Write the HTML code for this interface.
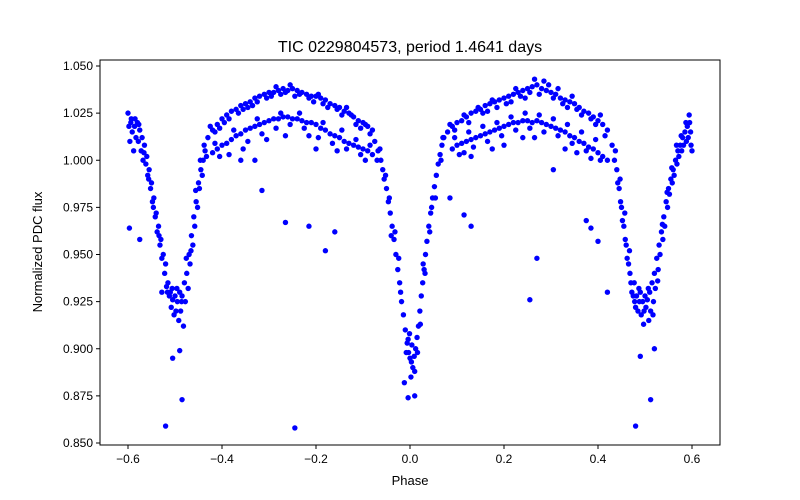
<!DOCTYPE html>
<html><head><meta charset="utf-8">
<style>
body{margin:0;background:#fff;}
svg{display:block;font-family:"Liberation Sans","DejaVu Sans",sans-serif;}
</style></head>
<body>
<svg id="chart" width="800" height="500" viewBox="0 0 800 500" xmlns="http://www.w3.org/2000/svg">
<rect width="800" height="500" fill="#fff"/>
<text x="410" y="52" font-size="16" text-anchor="middle" fill="#000">TIC 0229804573, period 1.4641 days</text>
<g id="points"></g>
<g id="xticks"></g>
<g id="yticks"></g>
<rect x="100" y="60" width="620" height="385" fill="none" stroke="#000" stroke-width="1"/>
<text x="410" y="485" font-size="13" text-anchor="middle">Phase</text>
<text x="0" y="0" font-size="13" text-anchor="middle" transform="translate(42,252) rotate(-90)">Normalized PDC flux</text>
</svg>
<script>
const xTicks = [-0.6,-0.4,-0.2,0.0,0.2,0.4,0.6];
const yTicks = [0.850,0.875,0.900,0.925,0.950,0.975,1.000,1.025,1.050];
const eclipseLeft = [[-0.600,1.025],[-0.598,1.018],[-0.596,1.010],[-0.594,1.020],[-0.591,1.015],[-0.588,1.005],[-0.586,1.018],[-0.583,1.012],[-0.580,1.020],[-0.578,1.010],[-0.575,1.016],[-0.572,1.005],[-0.570,1.012],[-0.568,1.000],[-0.565,1.008],[-0.562,0.998],[-0.560,1.002],[-0.558,0.992],[-0.555,0.995],[-0.552,0.985],[-0.550,0.988],[-0.548,0.978],[-0.545,0.980],[-0.542,0.970],[-0.540,0.972],[-0.538,0.962],[-0.535,0.965],[-0.532,0.955],[-0.530,0.958],[-0.528,0.948],[-0.525,0.950],[-0.522,0.940],[-0.520,0.945],[-0.518,0.933],[-0.515,0.935],[-0.512,0.928],[-0.510,0.930],[-0.508,0.922],[-0.505,0.926],[-0.502,0.918],[-0.500,0.928],[-0.498,0.920],[-0.495,0.925],[-0.492,0.915],[-0.490,0.930],[-0.488,0.920],[-0.485,0.928],[-0.482,0.912],[-0.480,0.935],[-0.478,0.925],[-0.475,0.940],[-0.472,0.932],[-0.470,0.950],[-0.468,0.945],[-0.465,0.960],[-0.462,0.955],[-0.460,0.970],[-0.458,0.965],[-0.455,0.978],[-0.452,0.975],[-0.450,0.988],[-0.448,0.985],[-0.445,0.995],[-0.442,0.992],[-0.440,1.000],[-0.436,1.005],[-0.433,1.002],[-0.593,1.022],[-0.585,1.022],[-0.577,1.019],[-0.566,1.004],[-0.556,0.990],[-0.546,0.975],[-0.534,0.960],[-0.516,0.930],[-0.506,0.932],[-0.496,0.932],[-0.486,0.925],[-0.476,0.948],[-0.466,0.952],[-0.456,0.984],[-0.446,1.000],[-0.438,1.008]];
const upperLeft = [[-0.43,1.012],[-0.42,1.016],[-0.41,1.019],[-0.40,1.022],[-0.39,1.024],[-0.38,1.026],[-0.37,1.027],[-0.36,1.029],[-0.35,1.030],[-0.34,1.031],[-0.33,1.033],[-0.32,1.034],[-0.31,1.035],[-0.30,1.036],[-0.29,1.036],[-0.28,1.037],[-0.27,1.038],[-0.26,1.037],[-0.25,1.038],[-0.24,1.037],[-0.23,1.036],[-0.22,1.035],[-0.21,1.034],[-0.20,1.034],[-0.19,1.033],[-0.18,1.032],[-0.17,1.030],[-0.16,1.029],[-0.15,1.028],[-0.14,1.026],[-0.13,1.025],[-0.12,1.023],[-0.11,1.021],[-0.10,1.020],[-0.09,1.018],[-0.08,1.016],[-0.425,1.018],[-0.395,1.020],[-0.365,1.025],[-0.335,1.029],[-0.305,1.033],[-0.275,1.035],[-0.245,1.034],[-0.215,1.033],[-0.185,1.030],[-0.155,1.027],[-0.125,1.024],[-0.095,1.019],[-0.085,1.014],[-0.415,1.015],[-0.385,1.022],[-0.355,1.027],[-0.325,1.031],[-0.295,1.034],[-0.265,1.036],[-0.235,1.035],[-0.205,1.031],[-0.175,1.028],[-0.145,1.024],[-0.115,1.019],[-0.105,1.017],[-0.405,1.017],[-0.345,1.028],[-0.285,1.039],[-0.255,1.040],[-0.195,1.035],[-0.135,1.028]];
const lowerLeft = [[-0.42,1.004],[-0.41,1.006],[-0.40,1.008],[-0.39,1.009],[-0.38,1.011],[-0.37,1.013],[-0.36,1.014],[-0.35,1.016],[-0.34,1.017],[-0.33,1.018],[-0.32,1.019],[-0.31,1.020],[-0.30,1.021],[-0.29,1.022],[-0.28,1.022],[-0.27,1.023],[-0.26,1.023],[-0.25,1.022],[-0.24,1.022],[-0.23,1.021],[-0.22,1.020],[-0.21,1.020],[-0.20,1.019],[-0.19,1.017],[-0.18,1.016],[-0.17,1.014],[-0.16,1.013],[-0.15,1.012],[-0.14,1.010],[-0.13,1.009],[-0.12,1.008],[-0.11,1.007],[-0.10,1.006],[-0.09,1.005],[-0.08,1.003],[-0.07,1.000],[-0.385,1.003],[-0.345,1.010],[-0.315,1.014],[-0.285,1.017],[-0.255,1.019],[-0.225,1.017],[-0.195,1.012],[-0.165,1.009],[-0.135,1.006],[-0.105,1.003],[-0.36,1.000],[-0.33,1.000],[-0.20,1.006],[-0.415,1.009],[-0.375,1.016],[-0.325,1.022],[-0.275,1.025],[-0.235,1.025],[-0.185,1.020],[-0.145,1.016],[-0.115,1.011],[-0.085,1.008],[-0.405,1.002],[-0.355,1.006],[-0.305,1.011],[-0.265,1.013],[-0.215,1.013],[-0.155,1.005],[-0.095,1.000]];
const primaryEclipse = [[-0.075,1.010],[-0.068,1.005],[-0.062,1.000],[-0.058,0.995],[-0.055,0.990],[-0.050,0.985],[-0.046,0.978],[-0.042,0.972],[-0.038,0.965],[-0.034,0.958],[-0.030,0.950],[-0.026,0.942],[-0.022,0.935],[-0.018,0.925],[-0.014,0.918],[-0.010,0.910],[-0.006,0.903],[-0.003,0.898],[0.000,0.895],[0.003,0.893],[0.006,0.890],[0.009,0.896],[0.012,0.900],[0.015,0.906],[0.018,0.912],[0.021,0.920],[0.024,0.928],[0.027,0.935],[0.030,0.942],[0.033,0.950],[0.036,0.957],[0.040,0.965],[0.044,0.972],[0.048,0.980],[0.052,0.986],[0.056,0.992],[0.060,0.998],[0.064,1.003],[0.068,1.008],[-0.004,0.905],[0.004,0.902],[-0.008,0.898],[0.010,0.888],[-0.020,0.930],[0.028,0.945],[-0.040,0.960],[0.046,0.975],[-0.001,0.908],[0.002,0.885],[-0.064,1.006],[-0.052,0.992],[-0.044,0.980],[-0.032,0.962],[-0.024,0.948],[0.016,0.898],[0.022,0.913],[0.032,0.940],[0.042,0.962],[0.054,0.980],[0.066,1.000],[0.072,1.012]];
const upperRight = [[0.07,1.012],[0.08,1.015],[0.09,1.018],[0.10,1.020],[0.11,1.021],[0.12,1.023],[0.13,1.025],[0.14,1.026],[0.15,1.027],[0.16,1.029],[0.17,1.030],[0.18,1.031],[0.19,1.032],[0.20,1.033],[0.21,1.034],[0.22,1.035],[0.23,1.036],[0.24,1.037],[0.25,1.038],[0.26,1.039],[0.27,1.040],[0.28,1.038],[0.29,1.037],[0.30,1.036],[0.31,1.035],[0.32,1.033],[0.33,1.032],[0.34,1.031],[0.35,1.030],[0.36,1.028],[0.37,1.026],[0.38,1.025],[0.39,1.023],[0.40,1.021],[0.41,1.019],[0.42,1.016],[0.085,1.019],[0.115,1.024],[0.145,1.028],[0.175,1.032],[0.205,1.030],[0.235,1.034],[0.265,1.043],[0.285,1.042],[0.295,1.040],[0.325,1.030],[0.355,1.027],[0.385,1.022],[0.415,1.013],[0.095,1.016],[0.125,1.020],[0.155,1.025],[0.185,1.028],[0.215,1.031],[0.245,1.033],[0.275,1.035],[0.305,1.033],[0.335,1.028],[0.365,1.024],[0.395,1.019],[0.405,1.024],[0.225,1.038],[0.255,1.036],[0.315,1.038],[0.345,1.034],[0.165,1.026]];
const lowerRight = [[0.09,1.006],[0.10,1.008],[0.11,1.009],[0.12,1.010],[0.13,1.011],[0.14,1.012],[0.15,1.013],[0.16,1.014],[0.17,1.015],[0.18,1.016],[0.19,1.017],[0.20,1.018],[0.21,1.019],[0.22,1.020],[0.23,1.020],[0.24,1.021],[0.25,1.021],[0.26,1.020],[0.27,1.021],[0.28,1.020],[0.29,1.019],[0.30,1.018],[0.31,1.017],[0.32,1.016],[0.33,1.015],[0.34,1.013],[0.35,1.012],[0.36,1.010],[0.37,1.009],[0.38,1.007],[0.39,1.006],[0.40,1.004],[0.41,1.002],[0.42,1.000],[0.105,1.003],[0.135,1.007],[0.165,1.010],[0.195,1.013],[0.225,1.016],[0.255,1.017],[0.285,1.015],[0.315,1.013],[0.345,1.009],[0.375,1.005],[0.405,1.000],[0.24,1.012],[0.20,1.008],[0.33,1.006],[0.13,1.002],[0.095,1.012],[0.125,1.015],[0.155,1.018],[0.185,1.020],[0.215,1.023],[0.245,1.025],[0.275,1.024],[0.305,1.022],[0.335,1.019],[0.365,1.015],[0.395,1.011],[0.115,1.004],[0.175,1.006],[0.265,1.012],[0.355,1.004],[0.385,1.001]];
const eclipseRight = [[0.430,1.008],[0.435,1.000],[0.440,0.995],[0.442,0.988],[0.445,0.985],[0.448,0.978],[0.450,0.975],[0.452,0.968],[0.455,0.965],[0.458,0.958],[0.460,0.955],[0.462,0.948],[0.465,0.945],[0.468,0.940],[0.470,0.935],[0.472,0.930],[0.475,0.928],[0.478,0.925],[0.480,0.922],[0.482,0.928],[0.485,0.920],[0.488,0.925],[0.490,0.930],[0.492,0.918],[0.495,0.925],[0.498,0.920],[0.500,0.928],[0.502,0.922],[0.505,0.926],[0.508,0.915],[0.510,0.930],[0.512,0.920],[0.515,0.935],[0.518,0.925],[0.520,0.940],[0.522,0.932],[0.525,0.948],[0.528,0.942],[0.530,0.955],[0.532,0.950],[0.535,0.962],[0.538,0.958],[0.540,0.970],[0.542,0.965],[0.545,0.978],[0.548,0.975],[0.550,0.985],[0.552,0.982],[0.555,0.990],[0.558,0.988],[0.560,0.995],[0.562,0.992],[0.565,1.000],[0.568,0.998],[0.570,1.005],[0.572,1.002],[0.575,1.008],[0.578,1.005],[0.580,1.012],[0.582,1.008],[0.585,1.015],[0.588,1.010],[0.590,1.018],[0.592,1.012],[0.595,1.020],[0.597,1.015],[0.598,1.008],[0.600,1.005],[0.437,1.005],[0.447,0.990],[0.457,0.972],[0.467,0.952],[0.477,0.935],[0.487,0.932],[0.497,0.913],[0.507,0.932],[0.517,0.918],[0.527,0.936],[0.537,0.966],[0.547,0.983],[0.557,0.996],[0.567,1.008],[0.577,1.013],[0.587,1.020],[0.594,1.024]];
const outliers = [[-0.597,0.964],[-0.575,0.958],[-0.528,0.930],[-0.520,0.859],[-0.505,0.895],[-0.490,0.899],[-0.485,0.873],[-0.315,0.984],[-0.265,0.967],[-0.245,0.858],[-0.215,0.965],[-0.180,0.952],[-0.160,0.962],[-0.012,0.882],[-0.004,0.874],[0.010,0.875],[0.085,0.980],[0.115,0.971],[0.130,0.965],[0.255,0.926],[0.270,0.948],[0.305,0.995],[0.375,0.968],[0.385,0.964],[0.400,0.957],[0.420,0.930],[0.480,0.859],[0.490,0.896],[0.512,0.873],[0.520,0.900]];

const NS = 'http://www.w3.org/2000/svg';
const L=100,R=720,T=60,B=445;
function xs(v){return 410 + v*470;}
function ys(v){return 443 - (v-0.85)*1885;}

const pg = document.getElementById('points');
[eclipseLeft,upperLeft,lowerLeft,primaryEclipse,upperRight,lowerRight,eclipseRight,outliers].forEach(function(series){
  series.forEach(function(p){
    const c = document.createElementNS(NS,'circle');
    
    
    c.setAttribute('cx', xs(p[0]));
    c.setAttribute('cy', ys(p[1]));
    c.setAttribute('r', 2.7);
    c.setAttribute('fill', '#0000ff');
    pg.appendChild(c);
  });
});

const xg = document.getElementById('xticks');
xTicks.forEach(function(t){
  const x = xs(t);
  const ln = document.createElementNS(NS,'line');
  
  
  ln.setAttribute('x1',x);ln.setAttribute('x2',x);ln.setAttribute('y1',B);ln.setAttribute('y2',B+4);
  ln.setAttribute('stroke','#000');
  xg.appendChild(ln);
  const tx = document.createElementNS(NS,'text');
  
  
  tx.setAttribute('x',x);tx.setAttribute('y',B+18);
  tx.setAttribute('font-size','12');tx.setAttribute('text-anchor','middle');
  tx.textContent = (t<0?'\u2212':'') + Math.abs(t).toFixed(1);
  xg.appendChild(tx);
});
const yg = document.getElementById('yticks');
yTicks.forEach(function(t){
  const y = ys(t);
  const ln = document.createElementNS(NS,'line');
  
  
  ln.setAttribute('x1',L-4);ln.setAttribute('x2',L);ln.setAttribute('y1',y);ln.setAttribute('y2',y);
  ln.setAttribute('stroke','#000');
  yg.appendChild(ln);
  const tx = document.createElementNS(NS,'text');
  
  
  tx.setAttribute('x',L-7);tx.setAttribute('y',y+4);
  tx.setAttribute('font-size','12');tx.setAttribute('text-anchor','end');
  tx.textContent = t.toFixed(3);
  yg.appendChild(tx);
});
</script>
</body></html>
